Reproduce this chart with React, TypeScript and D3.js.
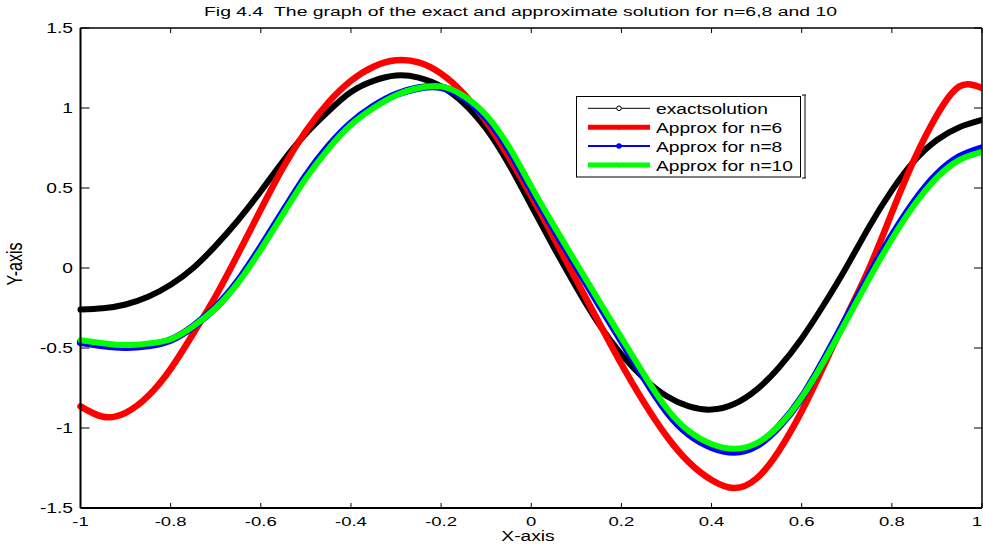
import React, { useEffect } from 'react';
import * as d3 from 'd3';

const xs = [-1, -0.95, -0.9, -0.85, -0.8, -0.75, -0.7, -0.65, -0.6, -0.55, -0.5, -0.45, -0.4, -0.35, -0.3, -0.25, -0.2, -0.15, -0.1, -0.05, 0,
  0.05, 0.1, 0.15, 0.2, 0.25, 0.3, 0.35, 0.4, 0.45, 0.5, 0.55, 0.6, 0.65, 0.7, 0.75, 0.8, 0.85, 0.9, 0.95, 1];

const exactSolution = [-0.26, -0.252, -0.228, -0.18, -0.105, 0.0, 0.14, 0.30, 0.48, 0.67, 0.84, 0.98, 1.10, 1.17, 1.203, 1.19, 1.135, 1.03, 0.87, 0.65, 0.39,
  0.13, -0.12, -0.35, -0.54, -0.69, -0.80, -0.865, -0.885, -0.85, -0.76, -0.62, -0.44, -0.225, 0.01, 0.26, 0.485, 0.67, 0.80, 0.88, 0.925];

const approxN6 = [-0.865, -0.93, -0.905, -0.80, -0.63, -0.41, -0.175, 0.09, 0.365, 0.63, 0.855, 1.035, 1.17, 1.258, 1.298, 1.285, 1.215, 1.09, 0.915, 0.695, 0.45,
  0.19, -0.075, -0.34, -0.60, -0.84, -1.05, -1.215, -1.325, -1.375, -1.315, -1.14, -0.895, -0.605, -0.30, 0.0, 0.345, 0.68, 0.955, 1.135, 1.125];

const approxN8 = [-0.465, -0.485, -0.495, -0.485, -0.45, -0.365, -0.245, -0.08, 0.13, 0.355, 0.575, 0.76, 0.905, 1.01, 1.085, 1.125, 1.13, 1.065, 0.94, 0.74, 0.49,
  0.245, 0.01, -0.225, -0.455, -0.685, -0.895, -1.04, -1.12, -1.15, -1.11, -0.99, -0.81, -0.57, -0.31, -0.045, 0.20, 0.415, 0.585, 0.695, 0.75];

const approxN10 = [-0.452, -0.47, -0.482, -0.472, -0.445, -0.365, -0.25, -0.09, 0.115, 0.34, 0.56, 0.745, 0.895, 1.0, 1.08, 1.125, 1.135, 1.075, 0.955, 0.76, 0.51,
  0.265, 0.03, -0.205, -0.435, -0.665, -0.875, -1.02, -1.10, -1.13, -1.095, -0.985, -0.81, -0.58, -0.325, -0.065, 0.18, 0.395, 0.565, 0.675, 0.725];

const xTicks = [-1, -0.8, -0.6, -0.4, -0.2, 0, 0.2, 0.4, 0.6, 0.8, 1];
const xTickLabels = ['-1', '-0.8', '-0.6', '-0.4', '-0.2', '0', '0.2', '0.4', '0.6', '0.8', '1'];
const yTicks = [-1.5, -1, -0.5, 0, 0.5, 1, 1.5];
const yTickLabels = ['-1.5', '-1', '-0.5', '0', '0.5', '1', '1.5'];

const legendLabels = ['exactsolution', 'Approx for n=6', 'Approx for n=8', 'Approx for n=10'];
const titleText = 'Fig 4.4\u00A0\u00A0The graph of the exact and approximate solution for n=6,8 and 10';

const W = 983, H = 544;
const L = 80.5, R = 982, T = 28, B = 508;
const SX = 1.37;
const FONT = '"Liberation Sans", Arial, Helvetica, sans-serif';

export default function App() {
  useEffect(() => {
    document.body.style.margin = '0';
  }, []);

  const x = d3.scaleLinear().domain([-1, 1]).range([L, R]);
  const y = d3.scaleLinear().domain([-1.5, 1.5]).range([B, T]);
  const line = d3.line<number>().x((_, i) => x(xs[i])).y((d) => y(d)).curve(d3.curveNatural);

  const series = [
    { data: exactSolution, color: '#000000', width: 6 },
    { data: approxN6, color: '#ff0000', width: 6.5 },
    { data: approxN8, color: '#0000ff', width: 7.5 },
    { data: approxN10, color: '#00ff00', width: 6 },
  ];

  const legendRows = [108.3, 127.3, 146, 165];
  const legendStyle = [
    { color: '#000000', width: 1, marker: 'open' },
    { color: '#ff0000', width: 5, marker: 'small' },
    { color: '#0000ff', width: 2, marker: 'dot' },
    { color: '#00ff00', width: 5, marker: 'small' },
  ];

  return (
    <svg width={W} height={H} style={{ position: 'absolute', left: 0, top: 0, background: '#fff' }} fontFamily={FONT}>
      <defs>
        <clipPath id="plotclip">
          <rect x={L - 4} y={T} width={R - L + 4} height={B - T} />
        </clipPath>
      </defs>
      <rect x={0} y={0} width={W} height={H} fill="#fff" />
      <text x={204} y={16} fontSize={12.5} textLength={633} lengthAdjust="spacingAndGlyphs" fill="#000">{titleText}</text>

      <g clipPath="url(#plotclip)">
        {series.map((s, i) => (
          <path key={i} d={line(s.data) || ''} fill="none" stroke={s.color} strokeWidth={s.width} strokeLinejoin="round" strokeLinecap="round" />
        ))}
      </g>

      {/* axes box */}
      <line x1={L} y1={T} x2={R} y2={T} stroke="#000" strokeWidth={1.5} />
      <line x1={R} y1={T} x2={R} y2={B} stroke="#000" strokeWidth={1.5} />
      <line x1={L} y1={B} x2={R} y2={B} stroke="#000" strokeWidth={2} />
      <line x1={L} y1={T} x2={L} y2={B} stroke="#000" strokeWidth={2} />

      {xTicks.map((t, i) => {
        const last = i === xTicks.length - 1;
        return (
          <g key={'xt' + i}>
            <line x1={x(t)} y1={B} x2={x(t)} y2={B - 5} stroke="#000" strokeWidth={1} />
            <line x1={x(t)} y1={T} x2={x(t)} y2={T + 5} stroke="#000" strokeWidth={1} />
            <text transform={`translate(${last ? W - 1 : x(t)},${525.5}) scale(${SX},1)`} textAnchor={last ? 'end' : 'middle'} fontSize={13.5} fill="#000">{xTickLabels[i]}</text>
          </g>
        );
      })}
      {yTicks.map((t, i) => (
        <g key={'yt' + i}>
          <line x1={L} y1={y(t)} x2={L + 9} y2={y(t)} stroke="#000" strokeWidth={1} />
          <line x1={R} y1={y(t)} x2={R - 8} y2={y(t)} stroke="#000" strokeWidth={1} />
          <text transform={`translate(${73},${y(t) + 5}) scale(${SX},1)`} textAnchor="end" fontSize={14} fill="#000">{yTickLabels[i]}</text>
        </g>
      ))}

      <text transform={`translate(${528},${541}) scale(${SX},1)`} textAnchor="middle" fontSize={14} fill="#000">X-axis</text>
      <text transform={`translate(${22},${264}) scale(${SX},1) rotate(-90)`} textAnchor="middle" fontSize={16} fill="#000">Y-axis</text>

      {/* legend */}
      <rect x={576.5} y={96.5} width={224} height={80.5} fill="#fff" stroke="#000" strokeWidth={1} />
      <line x1={805} y1={95} x2={805} y2={178} stroke="#000" strokeWidth={1} />
      <line x1={802} y1={95} x2={806} y2={95} stroke="#000" strokeWidth={1} />
      <line x1={802} y1={178} x2={806} y2={178} stroke="#000" strokeWidth={1} />
      {legendLabels.map((lab, i) => {
        const ly = legendRows[i];
        const st = legendStyle[i];
        return (
          <g key={'lg' + i}>
            <line x1={588} y1={ly} x2={650} y2={ly} stroke={st.color} strokeWidth={st.width} />
            {st.marker === 'open' && <circle cx={619} cy={ly} r={2.3} fill="#fff" stroke="#000" strokeWidth={1} />}
            {st.marker === 'dot' && <circle cx={619} cy={ly} r={2.8} fill={st.color} />}
            {st.marker === 'small' && <circle cx={619} cy={ly + 1} r={1.5} fill={st.color} />}
            <text transform={`translate(${656},${ly + 5.5}) scale(${SX},1)`} fontSize={14} fill="#000">{lab}</text>
          </g>
        );
      })}
    </svg>
  );
}
